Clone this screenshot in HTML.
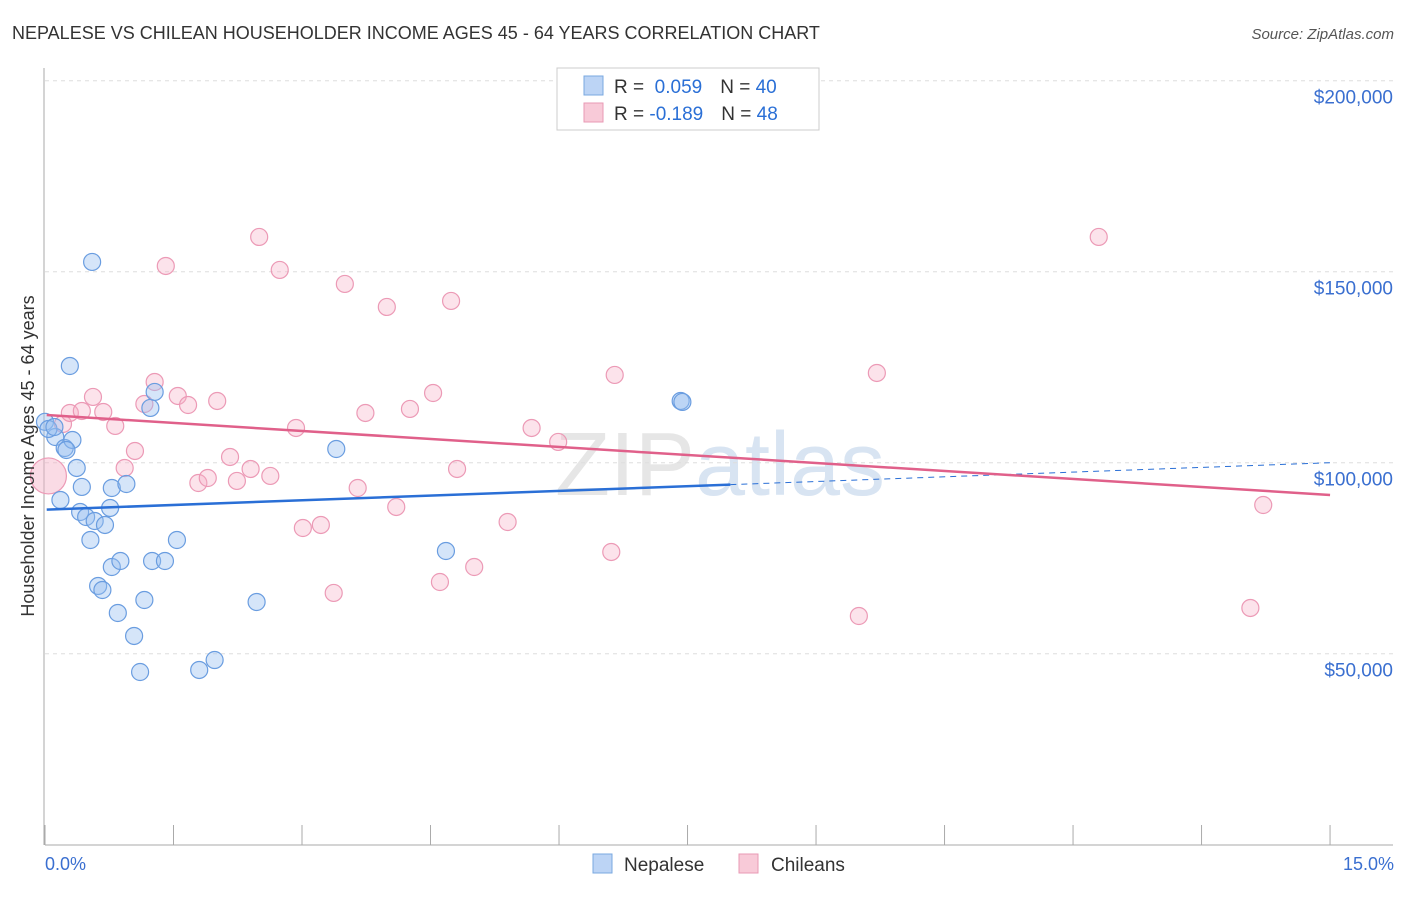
<!DOCTYPE html>
<html><head><meta charset="utf-8"><style>
body{margin:0;background:#fff;font-family:"Liberation Sans",sans-serif;}
svg text{font-family:"Liberation Sans",sans-serif;}
</style></head><body>
<svg id="c" width="1406" height="892" xmlns="http://www.w3.org/2000/svg">
<text x="12" y="39" font-size="18" fill="#333">NEPALESE VS CHILEAN HOUSEHOLDER INCOME AGES 45 - 64 YEARS CORRELATION CHART</text>
<text x="1394" y="39" font-size="15" fill="#555" text-anchor="end" font-style="italic">Source: ZipAtlas.com</text>
<text x="720" y="495" font-size="90" fill="#e6e6e6" text-anchor="middle" font-family="Liberation Serif">ZIP<tspan fill="#d8e4f2">atlas</tspan></text>
<g id="grid"></g>
<g id="axes"></g>
<g id="pts"></g>
<g id="trends"></g>
<text transform="translate(34,456) rotate(-90)" font-size="18" fill="#333" text-anchor="middle">Householder Income Ages 45 - 64 years</text>
<text x="45" y="870" font-size="18" fill="#3a6fd0">0.0%</text>
<text x="1394" y="870" font-size="18" fill="#3a6fd0" text-anchor="end">15.0%</text>
<g>
<rect x="557" y="68" width="262" height="62" fill="#fff" stroke="#ccc"/>
<rect x="584" y="76" width="19" height="19" fill="#bcd4f5" stroke="#7aa8e0"/>
<rect x="584" y="103" width="19" height="19" fill="#f8cad8" stroke="#e89ab4"/>
<text x="614" y="93" font-size="19" fill="#333">R = <tspan fill="#2a6fd6">&#160;0.059</tspan><tspan dx="18">N = </tspan><tspan fill="#2a6fd6">40</tspan></text>
<text x="614" y="120" font-size="19" fill="#333">R = <tspan fill="#2a6fd6">-0.189</tspan><tspan dx="18">N = </tspan><tspan fill="#2a6fd6">48</tspan></text>
</g>
<g>
<rect x="593" y="854" width="19" height="19" fill="#bcd4f5" stroke="#7aa8e0"/>
<text x="624" y="871" font-size="19" fill="#333">Nepalese</text>
<rect x="739" y="854" width="19" height="19" fill="#f8cad8" stroke="#e89ab4"/>
<text x="771" y="871" font-size="19" fill="#333">Chileans</text>
</g>
</svg>
<script>
const yTicks=[50000,100000,150000,200000];
const yTickLabels=["$50,000","$100,000","$150,000","$200,000"];
const xTicks=[0,1.5,3,4.5,6,7.5,9,10.5,12,13.5,15];
const nepX=[0.00,0.12,0.18,0.23,0.29,0.32,0.37,0.43,0.41,0.48,0.55,0.58,0.53,0.62,0.67,0.70,0.76,0.78,0.78,0.85,0.88,0.95,1.04,1.11,1.16,1.23,1.28,1.25,1.40,1.54,1.80,1.98,2.47,3.40,4.68,7.42,7.44,0.04,0.11,0.25];
const nepY=[110700,106730,90240,103850,125320,105950,98620,93650,87100,85790,152550,84740,79770,67730,66680,83700,88150,93380,72700,60660,74270,94430,54640,45210,64060,114330,118520,74270,74270,79770,45740,48350,63540,103590,76890,116160,115900,108830,109350,103330];
const chiX=[0.21,0.29,0.43,0.56,0.68,0.82,0.93,1.05,1.16,1.28,1.41,1.55,1.67,1.79,1.90,2.01,2.16,2.24,2.40,2.50,2.63,2.74,2.93,3.01,3.22,3.37,3.50,3.65,3.74,3.99,4.10,4.26,4.53,4.61,4.74,4.81,5.01,5.40,5.68,5.99,6.61,6.65,9.50,9.71,12.30,14.07,14.22];
const chiY=[110140,113020,113540,117210,113280,109620,98620,103070,115370,121130,151500,117470,115110,94690,96000,116160,101500,95220,98360,159100,96530,150460,109090,82910,83700,65900,146790,93380,113020,140770,88410,114070,118250,68770,142340,98360,72700,84480,109090,105430,76630,122970,59870,123490,159100,61970,88930];
const chiBigX=[0.04], chiBigY=[96530];
const nepTrend=[87700,100000], nepSolidEnd=8.0;
const chiTrend=[112500,91550];
const NS="http://www.w3.org/2000/svg";
const X=p=>45+p*85.67, Y=v=>844.7-v*0.00382;
function mk(tag,attrs,parent){const e=document.createElementNS(NS,tag);for(const k in attrs)e.setAttribute(k,attrs[k]);document.getElementById(parent).appendChild(e);return e;}
yTicks.forEach((v,i)=>{
 const l=mk('line',{x1:45,x2:1393,y1:Y(v),y2:Y(v),stroke:'#ddd','stroke-dasharray':'4,4'},'grid');
 
 
 const t=mk('text',{x:1393,y:Y(v)+23,'font-size':19,fill:'#3a6fd0','text-anchor':'end'},'grid');
 t.textContent=yTickLabels[i];
 
 
});
const ax=mk('line',{x1:45,x2:1393,y1:845,y2:845,stroke:'#aaa'},'axes');


const ay=mk('line',{x1:44,x2:44,y1:68,y2:845,stroke:'#aaa'},'axes');


xTicks.forEach(p=>{
 const t=mk('line',{x1:X(p),x2:X(p),y1:825,y2:845,stroke:'#aaa'},'axes');
 
 
});
function pts(xs,ys,r,fill,stroke,name){xs.forEach((x,i)=>{
 const c=mk('circle',{cx:X(x),cy:Y(ys[i]),r:r,fill:fill,stroke:stroke,'stroke-width':1.2},'pts');
 
 
});}
pts(chiBigX,chiBigY,18,'rgba(245,175,198,0.45)','#ec9ab6','chilean-point');
pts(chiX,chiY,8.5,'rgba(245,175,198,0.35)','#ec9ab6','chilean-point');
pts(nepX,nepY,8.5,'rgba(150,190,240,0.4)','#6a9de0','nepalese-point');
const nv=p=>nepTrend[0]+(nepTrend[1]-nepTrend[0])*p/15;
const cv=p=>chiTrend[0]+(chiTrend[1]-chiTrend[0])*p/15;
let l=mk('line',{x1:X(0.02),y1:Y(nv(0.02)),x2:X(nepSolidEnd),y2:Y(nv(nepSolidEnd)),stroke:'#2a6fd6','stroke-width':2.5},'trends');


l=mk('line',{x1:X(nepSolidEnd),y1:Y(nv(nepSolidEnd)),x2:X(15),y2:Y(nv(15)),stroke:'#2a6fd6','stroke-width':1,'stroke-dasharray':'6,5'},'trends');


l=mk('line',{x1:X(0.02),y1:Y(cv(0.02)),x2:X(15),y2:Y(cv(15)),stroke:'#e0608a','stroke-width':2.5},'trends');


</script>
</body></html>
